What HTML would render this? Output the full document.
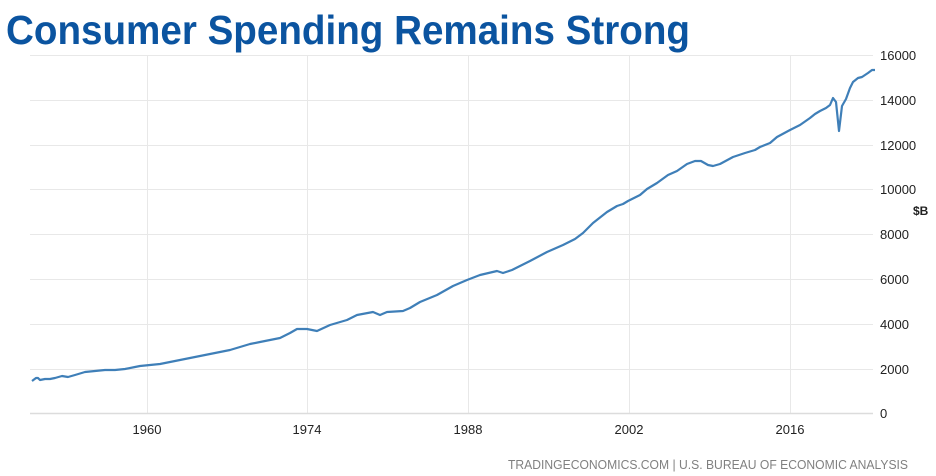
<!DOCTYPE html>
<html><head><meta charset="utf-8"><style>
html,body{margin:0;padding:0;background:#fff;}
svg{display:block;}
</style></head><body>
<svg width="936" height="476" viewBox="0 0 936 476" xmlns="http://www.w3.org/2000/svg">
<text x="6" y="44" font-family="Liberation Sans, sans-serif" font-weight="bold" font-size="41" fill="#0b54a0" textLength="684" lengthAdjust="spacingAndGlyphs">Consumer Spending Remains Strong</text>
<g stroke="#e8e8e8" stroke-width="1">
<line x1="30" y1="55.5" x2="873" y2="55.5"/>
<line x1="30" y1="100.5" x2="873" y2="100.5"/>
<line x1="30" y1="145.5" x2="873" y2="145.5"/>
<line x1="30" y1="189.5" x2="873" y2="189.5"/>
<line x1="30" y1="234.5" x2="873" y2="234.5"/>
<line x1="30" y1="279.5" x2="873" y2="279.5"/>
<line x1="30" y1="324.5" x2="873" y2="324.5"/>
<line x1="30" y1="369.5" x2="873" y2="369.5"/>
<line x1="147.5" y1="55" x2="147.5" y2="413"/>
<line x1="307.5" y1="55" x2="307.5" y2="413"/>
<line x1="468.5" y1="55" x2="468.5" y2="413"/>
<line x1="629.5" y1="55" x2="629.5" y2="413"/>
<line x1="790.5" y1="55" x2="790.5" y2="413"/>
</g>
<line x1="30" y1="413.5" x2="873" y2="413.5" stroke="#dcdcdc" stroke-width="1.5"/>
<g font-family="Liberation Sans, sans-serif" font-size="13" fill="#222">
<text x="880" y="60">16000</text>
<text x="880" y="105">14000</text>
<text x="880" y="150">12000</text>
<text x="880" y="194">10000</text>
<text x="880" y="239">8000</text>
<text x="880" y="284">6000</text>
<text x="880" y="329">4000</text>
<text x="880" y="374">2000</text>
<text x="880" y="418">0</text>
<text x="913" y="215" font-weight="bold" font-size="12">$B</text>
<text x="147" y="434" text-anchor="middle">1960</text>
<text x="307" y="434" text-anchor="middle">1974</text>
<text x="468" y="434" text-anchor="middle">1988</text>
<text x="629" y="434" text-anchor="middle">2002</text>
<text x="790" y="434" text-anchor="middle">2016</text>
</g>
<text x="508" y="469" font-family="Liberation Sans, sans-serif" font-size="13" fill="#808080" textLength="400" lengthAdjust="spacingAndGlyphs">TRADINGECONOMICS.COM | U.S. BUREAU OF ECONOMIC ANALYSIS</text>
<polyline fill="none" stroke="#3f7fb8" stroke-width="2.2" stroke-linejoin="round" points="32,381 36,378 38,378 40,380 45,379 50,379 55,378 62,376 68,377 75,375 85,372 95,371 105,370 115,370 125,369 135,367 140,366 150,365 160,364 170,362 180,360 190,358 200,356 210,354 220,352 230,350 240,347 250,344 260,342 270,340 280,338 290,333 297,329 307,329 312,330 317,331 330,325 347,320 357,315 373,312 380,315 387,312 403,311 410,308 420,302 437,295 453,286 467,280 480,275 497,271 503,273 512,270 530,261 547,252 563,245 575,239 583,233 593,223 607,212 617,206 623,204 628,201 640,195 647,189 657,183 668,175 677,171 687,164 695,161 701,161 708,165 713,166 720,164 733,157 745,153 755,150 760,147 770,143 777,137 790,130 800,125 810,118 815,114 820,111 826,108 830,105 833,98 836,102 839,131 842,106 846,99 850,88 853,82 858,78 862,77 868,73 872,70 875,70"/>
</svg>
</body></html>
